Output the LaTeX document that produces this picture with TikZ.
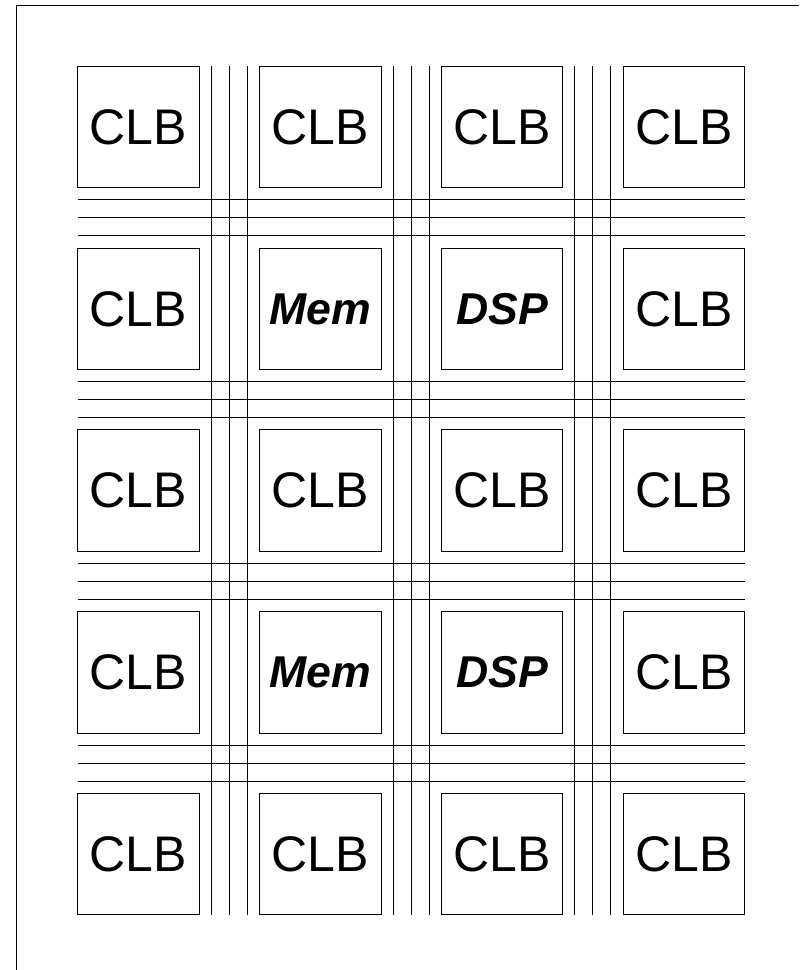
\documentclass[tikz,border=0pt]{standalone}
\usepackage{fontspec}
\setsansfont{Liberation Sans}
\usetikzlibrary{calc}

\begin{document}
\begin{tikzpicture}[
  x=0.5pt, y=0.5pt,
  line width=0.5pt,
  tile/.style={draw, minimum size=60.75pt, inner sep=0pt, outer sep=0pt,
    font=\sffamily\fontsize{25}{30}\selectfont},
  hard/.style={font=\sffamily\bfseries\itshape\fontsize{22.3}{26}\selectfont},
  wire/.style={draw, line width=0.5pt}
]

% page and frame
\coordinate (nw) at (-138.5,127.2);
\coordinate (se) at (660.5,-842.8);
\useasboundingbox (nw) rectangle (se);
\coordinate (corner) at (-121.5,121.5);
\draw (corner -| se) -- (corner) -- (corner |- se);

% tiles: CLB everywhere, Mem/DSP in rows 2 and 4
\foreach \r in {1,...,5}{
  \foreach \c in {1,...,4}{
    \def\lbl{CLB}
    \def\sty{}
    \ifodd\r\else
      \ifnum\c=2 \def\lbl{Mem}\def\sty{hard}\fi
      \ifnum\c=3 \def\lbl{DSP}\def\sty{hard}\fi
    \fi
    \node[tile, \sty] (b\r\c) at ({(\c-1)*181.75},{-(\r-1)*181.75}) {\lbl};
  }
}

% vertical routing channels
\foreach \c in {1,2,3}{
  \foreach \d in {12,30,48}{
    \draw[wire] ($(b1\c.north east)+(\d,0)$) -- ($(b5\c.south east)+(\d,0)$);
  }
}

% horizontal routing channels
\foreach \r in {1,2,3,4}{
  \foreach \d in {12,30,48}{
    \draw[wire] ($(b\r1.south west)+(0,-\d)$) -- ($(b\r4.south east)+(0,-\d)$);
  }
}

\end{tikzpicture}
\end{document}
